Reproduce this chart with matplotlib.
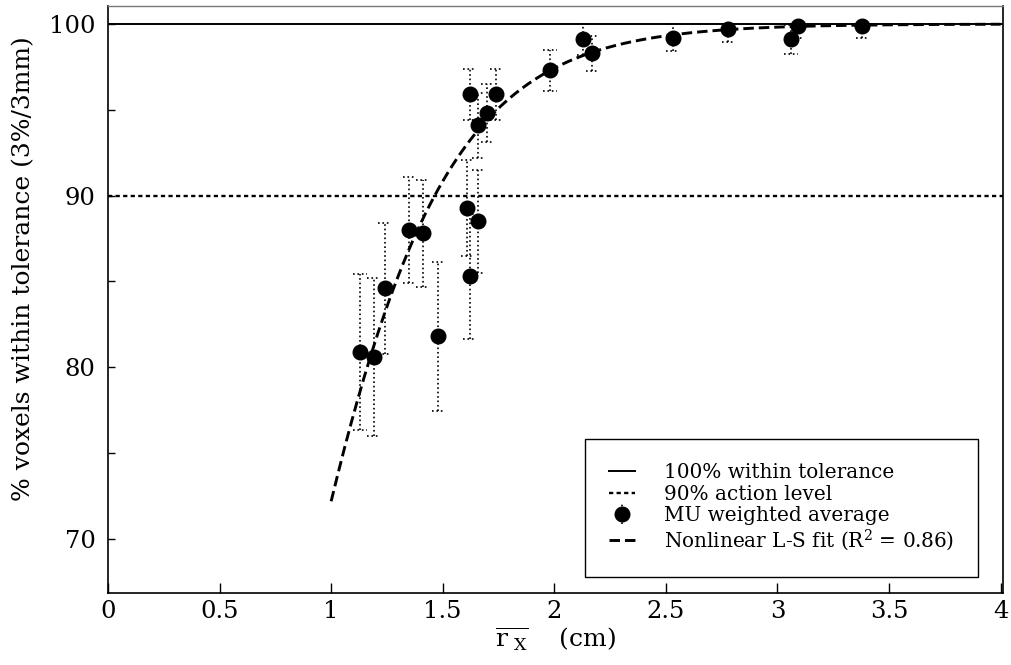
import numpy as np
import matplotlib
matplotlib.use("Agg")
import matplotlib.pyplot as plt

plt.rcParams["font.family"] = ["DejaVu Serif"]
plt.rcParams["mathtext.fontset"] = "dejavuserif"

# Mean radius per plan (cm) and MU-weighted gamma pass rate (%)
r_mean = [1.13, 1.19, 1.24, 1.35, 1.41, 1.48, 1.61, 1.62, 1.62, 1.66, 1.66,
          1.70, 1.74, 1.98, 2.13, 2.17, 2.53, 2.78, 3.06, 3.09, 3.38]
pass_rate = [80.9, 80.6, 84.6, 88.0, 87.8, 81.8, 89.3, 85.3, 95.9, 88.5, 94.1,
             94.8, 95.9, 97.3, 99.1, 98.3, 99.2, 99.7, 99.1, 99.9, 99.9]
pass_err = [4.55, 4.6, 3.8, 3.1, 3.1, 4.33, 2.8, 3.65, 1.5, 3.0, 1.9,
            1.7, 1.5, 1.2, 0.9, 1.03, 0.8, 0.72, 0.82, 0.7, 0.7]

# Logistic least-squares fit parameters
fit_k = 2.68
fit_x0 = 0.644
fit_range = (1.0, 4.0)
r_squared = 0.86

x_ticks = [0, 0.5, 1, 1.5, 2, 2.5, 3, 3.5, 4]
x_tick_labels = ["0", "0.5", "1", "1.5", "2", "2.5", "3", "3.5", "4"]
y_ticks = [70, 80, 90, 100]

x = np.array(r_mean)
y = np.array(pass_rate)
e = np.array(pass_err)
upper = np.minimum(y + e, 100.0) - y
lower = e

fig = plt.figure(figsize=(10.12, 6.65), dpi=100)
ax = fig.add_axes([0.1067, 0.1083, 0.8843, 0.8827])

h100 = ax.axhline(100, color="black", lw=1.4, zorder=2)
h90 = ax.axhline(90, color="black", lw=1.7, linestyle=(0, (1.8, 1.4)), zorder=2)

eb = ax.errorbar(x, y, yerr=[lower, upper], fmt="o", color="black",
                 markersize=10.5, ecolor="black", elinewidth=1.2, capsize=0,
                 zorder=3)
eb[2][0].set_linestyle(":")

cap_half = 0.03
ax.hlines(y - lower, x - cap_half, x + cap_half, colors="black",
          linestyles=":", lw=1.2, zorder=3)
ax.hlines(y + upper, x - cap_half, x + cap_half, colors="black",
          linestyles=":", lw=1.2, zorder=3)

xf = np.linspace(fit_range[0], fit_range[1], 300)
yf = 100.0 / (1.0 + np.exp(-fit_k * (xf - fit_x0)))
hfit, = ax.plot(xf, yf, color="black", lw=2.1, linestyle=(0, (3.6, 1.7)),
                zorder=4)

ax.set_xlim(0, 4.01)
ax.set_ylim(66.85, 101.05)
ax.set_xticks(x_ticks)
ax.set_xticklabels(x_tick_labels)
ax.set_yticks(y_ticks)
ax.set_yticks([75, 85, 95], minor=True)
ax.tick_params(axis="both", which="both", direction="in", labelsize=17.5,
               top=False, right=False)
ax.tick_params(axis="x", which="major", length=7, width=1, pad=5)
ax.tick_params(axis="y", which="both", length=5, width=1, pad=9)

for side in ["left", "bottom", "right"]:
    ax.spines[side].set_color("black")
    ax.spines[side].set_linewidth(1.2)
ax.spines["top"].set_color("#777777")
ax.spines["top"].set_linewidth(1.0)

ax.set_ylabel("% voxels within tolerance (3%/3mm)", fontsize=18)
ax.yaxis.set_label_coords(-0.0816, 0.552)
ax.set_xlabel(r"$\overline{\mathrm{r}\;_{\mathrm{X}}}$    (cm)", fontsize=18,
              labelpad=2)

leg = ax.legend([h100, h90, eb, hfit],
                ["100% within tolerance", "90% action level",
                 "MU weighted average", r"Nonlinear L-S fit (R$^2$ = %.2f)" % r_squared],
                loc="lower right", bbox_to_anchor=(0.972, 0.027),
                borderaxespad=0, fontsize=14.4, frameon=True, fancybox=False,
                edgecolor="black", framealpha=1, handlelength=1.3,
                handletextpad=1.45, borderpad=1.2, labelspacing=0.12)
leg.get_frame().set_linewidth(1.0)

fig.savefig("out.png", dpi=100)
